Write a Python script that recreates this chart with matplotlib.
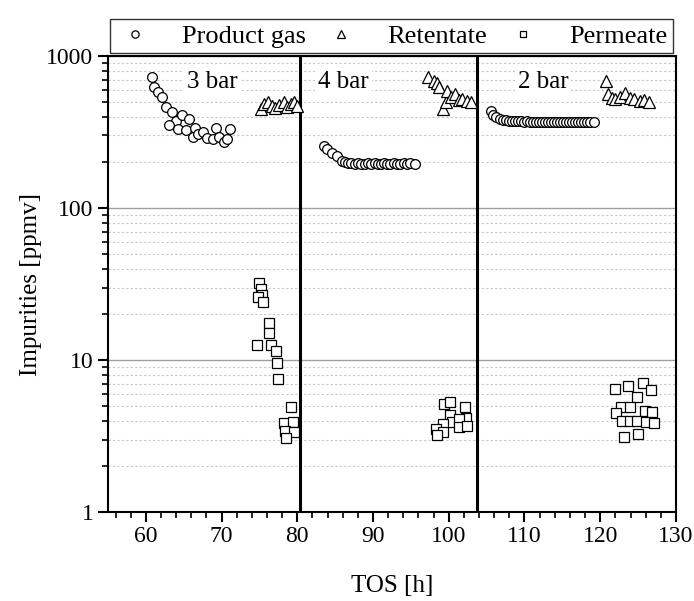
import numpy as np
import matplotlib
matplotlib.use("Agg")
import matplotlib.pyplot as plt
from matplotlib.ticker import LogLocator, NullFormatter, MultipleLocator

plt.rcParams['font.family'] = ['Liberation Serif', 'DejaVu Serif']

# Product gas
gas_3_x = [60.8, 61.1, 61.65, 62.1, 62.7, 63.4, 64.0, 64.75, 65.7, 63.0, 64.3, 65.3,
           66.5, 66.2, 66.9, 67.6, 68.05, 68.85, 69.3, 69.7, 70.3, 70.7, 71.1]
gas_3_y = [724, 622, 577, 540, 464, 430, 373, 409, 383, 351, 331, 326,
           334, 292, 305, 318, 287, 284, 338, 295, 273, 283, 329]
gas_4_x = [83.5, 83.9, 84.6, 85.2, 85.9, 86.3, 86.7, 87.1, 87.6, 88.0, 88.4, 88.9,
           89.3, 89.7, 90.2, 90.6, 91.0, 91.5, 91.9, 92.3, 92.8, 93.2, 93.6, 94.1,
           94.5, 94.9, 95.6]
gas_4_y = [256, 243, 231, 220, 205, 200, 198, 197, 196, 197, 196, 195,
           197, 196, 197, 195, 196, 197, 196, 195, 197, 196, 196, 197,
           196, 197, 195]
gas_2_x = [105.6, 105.9, 106.3, 106.7, 107.1, 107.5, 107.9, 108.3, 108.7, 109.1,
           109.5, 109.9, 110.3, 110.7, 111.1, 111.5, 111.9, 112.3, 112.7, 113.1,
           113.5, 113.9, 114.3, 114.7, 115.1, 115.5, 115.9, 116.3, 116.7, 117.1,
           117.5, 117.9, 118.3, 118.7, 119.2]
gas_2_y = [437, 409, 395, 386, 380, 377, 375, 373, 372, 371,
           371, 370, 371, 370, 369, 370, 370, 369, 370, 369,
           370, 369, 369, 370, 369, 369, 370, 368, 369, 369,
           368, 369, 368, 369, 370]

# Retentate
ret_3_x = [75.2, 75.6, 76.1, 76.6, 77.1, 77.6, 78.2, 78.7, 79.2, 79.6, 80.0]
ret_3_y = [450, 480, 495, 470, 455, 475, 495, 465, 480, 500, 470]
ret_4_x = [97.3, 98.0, 98.5, 98.7, 99.3, 99.6, 99.8, 100.3, 100.8, 101.3, 101.8, 102.4, 102.9]
ret_4_y = [731, 690, 667, 628, 446, 501, 589, 540, 560, 510, 521, 505, 501]
ret_2_x = [120.7, 121.0, 121.5, 121.9, 122.6, 123.3, 123.9, 124.5, 125.2, 125.8, 126.5]
ret_2_y = [688, 560, 530, 520, 540, 575, 530, 525, 505, 510, 500]

# Permeate
per_3_x = [74.7, 75.0, 75.2, 75.3, 74.75, 75.5, 76.2, 76.3, 76.5, 77.2, 77.35, 77.5,
           79.2, 78.3, 79.4, 78.4, 79.5, 78.5]
per_3_y = [12.6, 32.0, 29.2, 26.8, 25.9, 24.1, 17.4, 15.1, 12.6, 11.5, 9.5, 7.5,
           4.93, 3.83, 3.93, 3.41, 3.38, 3.08]
per_4_x = [99.35, 100.15, 102.1, 100.2, 102.3, 100.4, 101.3, 99.2, 98.25, 99.25, 98.4, 101.4, 102.45]
per_4_y = [5.14, 5.27, 4.89, 4.35, 4.17, 3.89, 4.07, 3.78, 3.50, 3.34, 3.21, 3.61, 3.70]
per_2_x = [121.9, 123.7, 125.7, 126.7, 124.8, 122.8, 123.9, 122.05, 125.9, 126.9,
           122.9, 123.95, 124.9, 126.0, 127.05, 123.1, 125.0]
per_2_y = [6.42, 6.78, 7.03, 6.32, 5.69, 4.93, 4.89, 4.50, 4.62, 4.55,
           3.99, 3.97, 3.99, 3.93, 3.87, 3.13, 3.26]

stage_breaks = [80.3, 103.7]
stage_labels = ["3 bar", "4 bar", "2 bar"]
stage_label_x = [68.8, 86.1, 112.5]
stage_label_y = 670

fig = plt.figure(figsize=(6.94, 6.01), dpi=100)
ax = fig.add_axes([0.1556, 0.148, 0.8184, 0.7588])

mk = dict(linestyle='none', markerfacecolor='white', markeredgecolor='black',
          markeredgewidth=0.9, zorder=5)
ax.plot(gas_3_x + gas_4_x + gas_2_x, gas_3_y + gas_4_y + gas_2_y, 'o',
        markersize=7, label='Product gas', **mk)
ax.plot(ret_3_x + ret_4_x + ret_2_x, ret_3_y + ret_4_y + ret_2_y, '^',
        markersize=8, label='Retentate', **mk)
ax.plot(per_3_x + per_4_x + per_2_x, per_3_y + per_4_y + per_2_y, 's',
        markersize=6.5, label='Permeate', **mk)

for xb in stage_breaks:
    ax.axvline(xb, color='black', lw=2.2, zorder=4)

for lab, xl in zip(stage_labels, stage_label_x):
    ax.text(xl, stage_label_y, lab, fontsize=18, ha='center', va='center', zorder=3,
            bbox=dict(facecolor='white', edgecolor='none', pad=2))

ax.set_yscale('log')
ax.set_xlim(55, 130)
ax.set_ylim(1, 1000)
ax.set_yticks([1, 10, 100, 1000])
ax.set_yticklabels(['1', '10', '100', '1000'])
ax.yaxis.set_minor_locator(LogLocator(base=10, subs=np.arange(2, 10)))
ax.yaxis.set_minor_formatter(NullFormatter())
ax.xaxis.set_major_locator(MultipleLocator(10))
ax.xaxis.set_minor_locator(MultipleLocator(2))

ax.grid(True, which='major', axis='y', color='#a0a0a0', lw=1.0, ls='-')
ax.grid(True, which='minor', axis='y', color='#c8c8c8', lw=0.8, ls=(0, (2, 2)))
ax.set_axisbelow(True)

ax.tick_params(which='major', direction='out', length=7, width=1.5, labelsize=17)
ax.tick_params(which='minor', direction='out', length=4, width=1.2)
ax.tick_params(axis='x', pad=3)
for s in ax.spines.values():
    s.set_linewidth(1.5)

ax.set_xlabel('TOS [h]', fontsize=18, labelpad=20)
ax.set_ylabel('Impurities [ppmv]', fontsize=18, labelpad=3)

ax.legend(loc='lower left', bbox_to_anchor=(0.004, 1.006, 0.99, 0.086), mode='expand',
          ncol=3, fontsize=19, frameon=True, fancybox=False, edgecolor='#333333',
          framealpha=1, markerscale=0.75, handlelength=1.5, handletextpad=1.0,
          borderaxespad=0, borderpad=0.2)

fig.savefig('out.png', dpi=100)
